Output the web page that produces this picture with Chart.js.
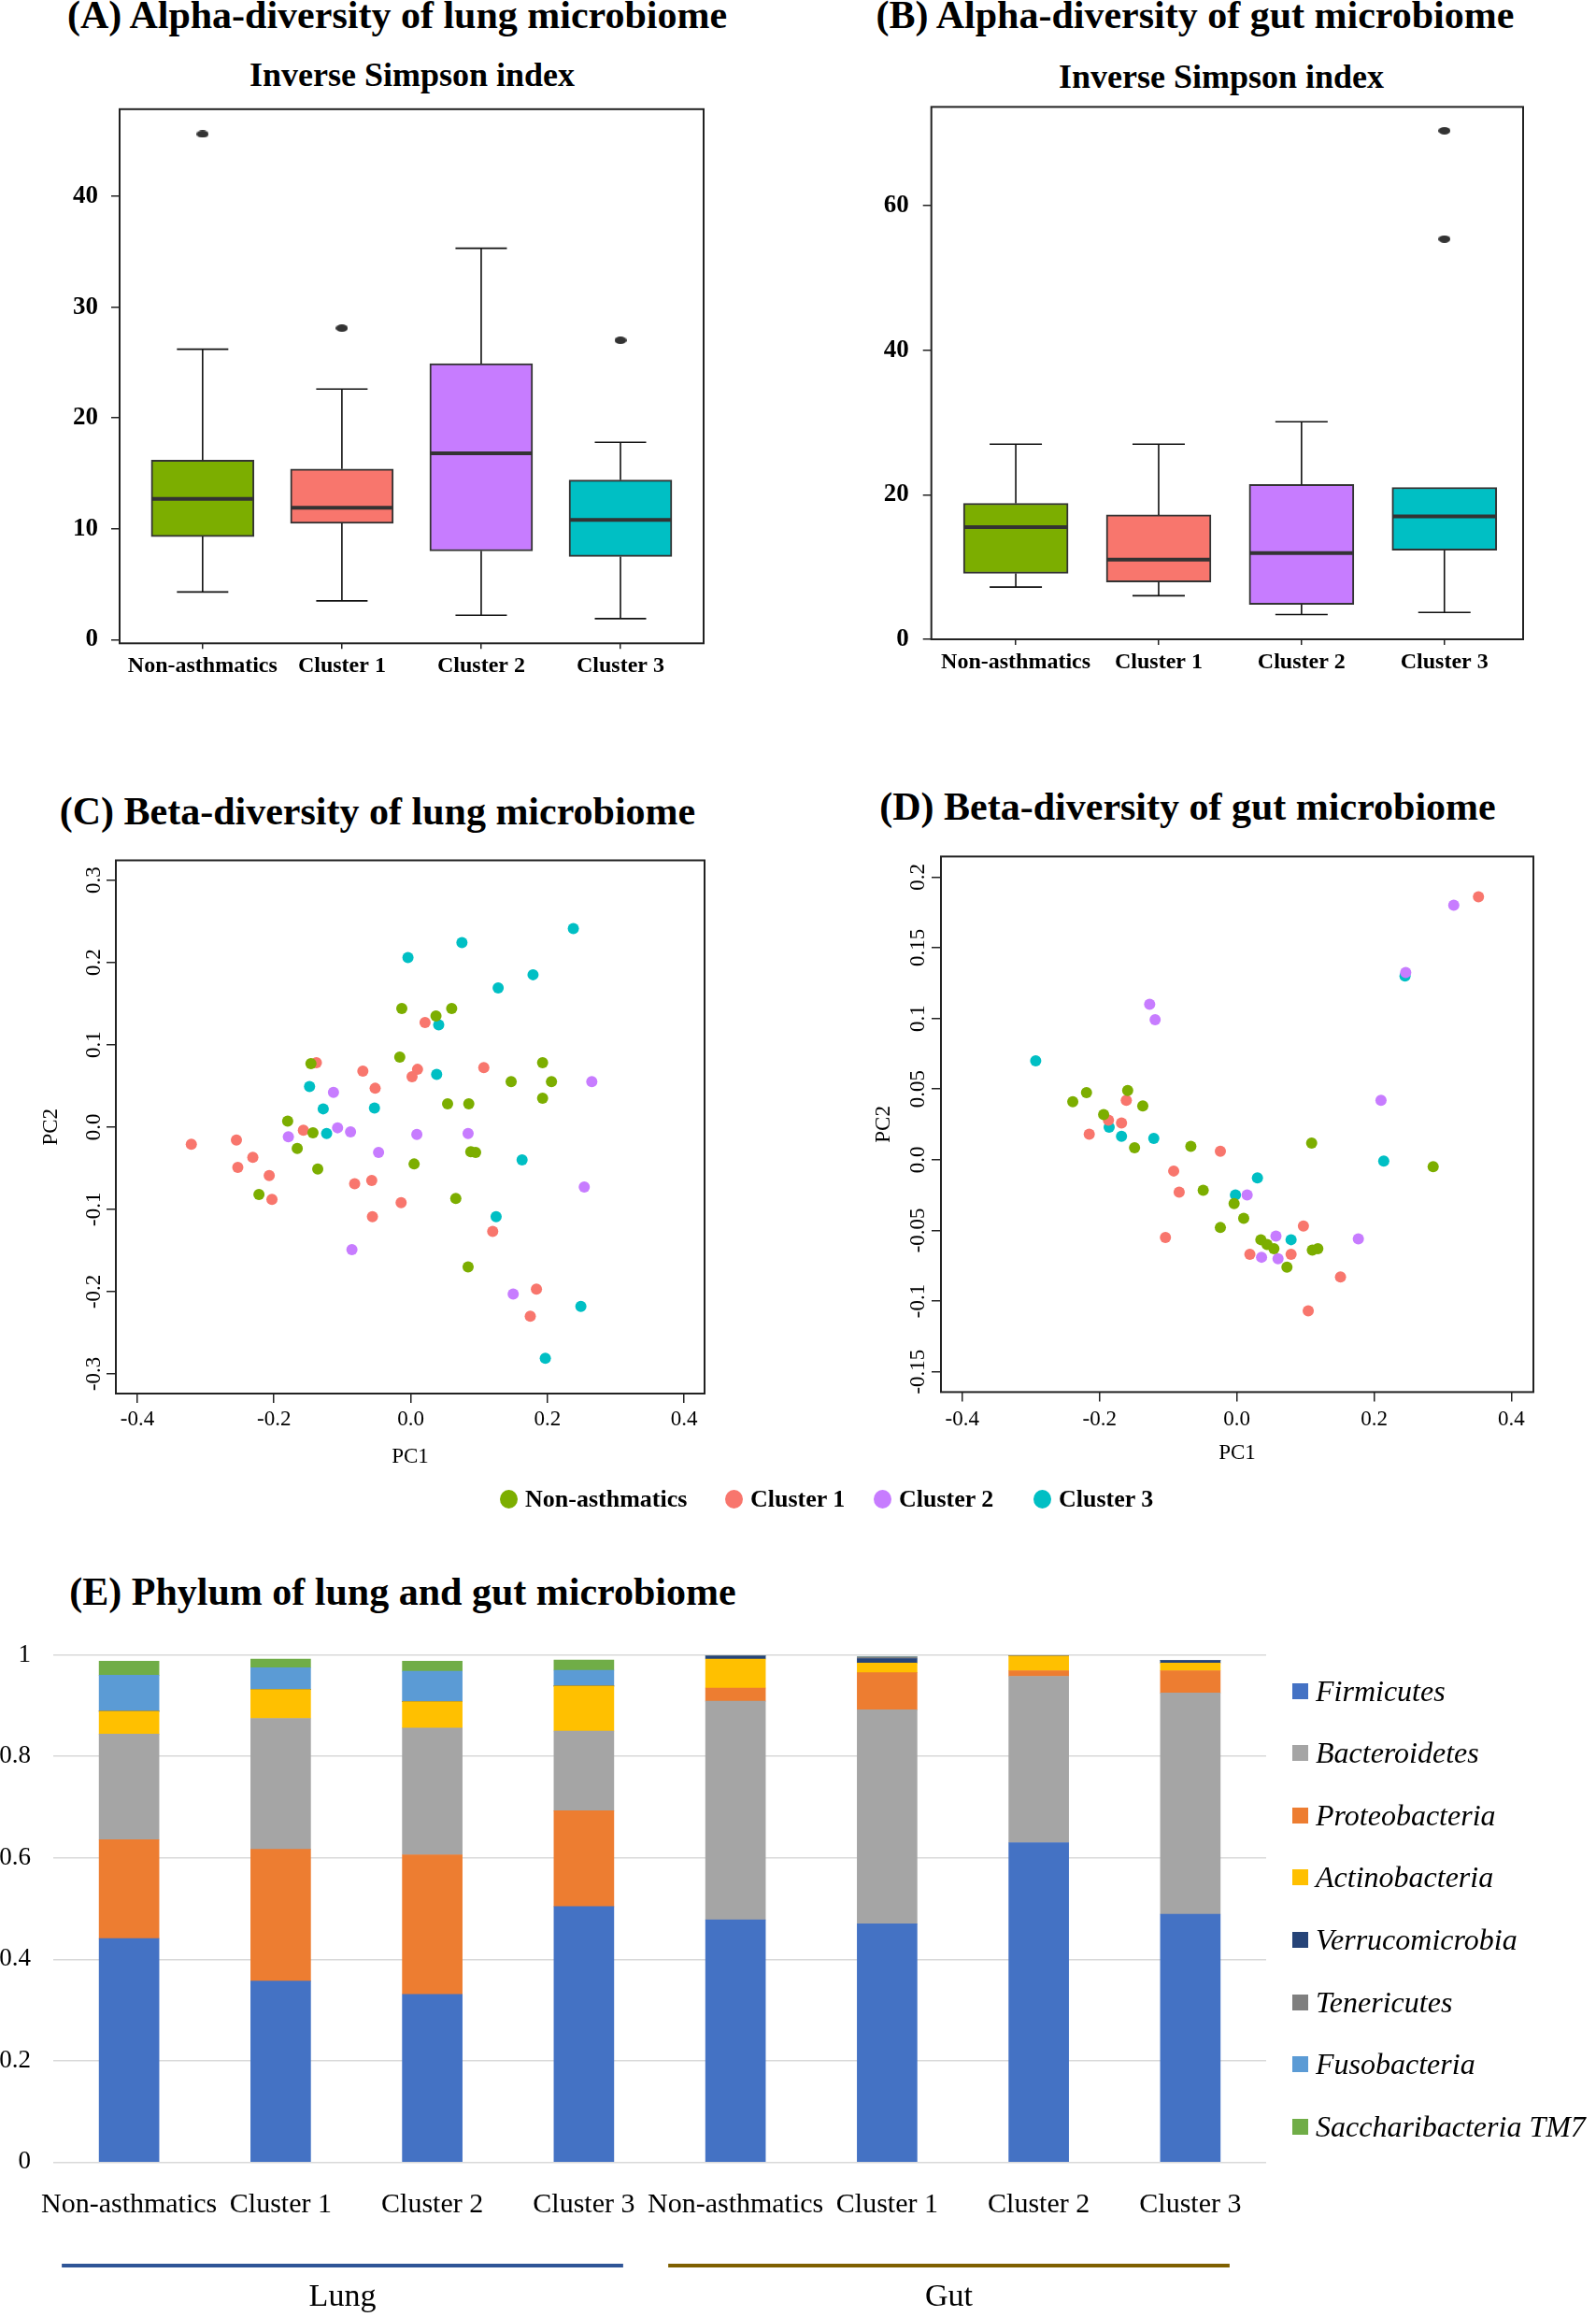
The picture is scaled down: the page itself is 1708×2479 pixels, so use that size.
<!DOCTYPE html>
<html>
<head>
<meta charset="utf-8">
<script src="https://cdn.jsdelivr.net/npm/chart.js@4.4.0/dist/chart.umd.min.js"></script>
<style>
  body { margin: 0; background: #fff; }
  #page { position: relative; width: 1708px; height: 2479px; overflow: hidden; background: #fff;
          font-family: "Liberation Serif", "Times New Roman", serif; color: #000; }
  canvas { position: absolute; }
  .title { position: absolute; width: 900px; text-align: center; font-weight: bold; white-space: nowrap; }
  .h1 { font-size: 42px; line-height: 50px; }
  .h2 { font-size: 36px; line-height: 44px; }
  .leg { position: absolute; display: flex; align-items: center; white-space: nowrap; }
</style>
</head>
<body>
<div id="page">
  <div class="title h1" style="left:-25px;top:-9px">(A) Alpha-diversity of lung microbiome</div>
  <div class="title h1" style="left:829px;top:-9px">(B) Alpha-diversity of gut microbiome</div>
  <div class="title h2" style="left:-9px;top:58px">Inverse Simpson index</div>
  <div class="title h2" style="left:857px;top:60px">Inverse Simpson index</div>
  <div class="title h1" style="left:-46px;top:843px">(C) Beta-diversity of lung microbiome</div>
  <div class="title h1" style="left:821px;top:838px">(D) Beta-diversity of gut microbiome</div>
  <div class="title h1" style="left:-19px;top:1678px">(E) Phylum of lung and gut microbiome</div>

  <canvas id="chartA" width="854" height="640" style="left:0;top:100px"></canvas>
  <canvas id="chartB" width="854" height="640" style="left:854px;top:100px"></canvas>
  <canvas id="chartC" width="800" height="690" style="left:0;top:900px"></canvas>
  <canvas id="chartD" width="854" height="690" style="left:854px;top:900px"></canvas>
  <canvas id="chartE" width="1708" height="739" style="left:0;top:1740px"></canvas>
  <div id="legendCD"></div>
  <div id="legendE"></div>
</div>

<script>
const SERIF = '"Liberation Serif", "Times New Roman", serif';
Chart.defaults.font.family = SERIF;
Chart.defaults.color = '#000';

const groups = ['Non-asthmatics', 'Cluster 1', 'Cluster 2', 'Cluster 3'];
const groupColors = ['#7CAE00', '#F8766D', '#C77CFF', '#00BFC4'];

// (A) inverse Simpson, lung
const lungLow = [4.3, 3.5, 2.2, 1.9];
const lungQ1 = [9.3, 10.5, 8.0, 7.5];
const lungMedian = [12.7, 11.9, 16.8, 10.8];
const lungQ3 = [16.2, 15.4, 24.9, 14.4];
const lungHigh = [26.2, 22.6, 35.3, 17.8];
const lungOutliers = [[45.6], [28.1], [], [27.0]];
const lungTicks = [0, 10, 20, 30, 40];

// (B) inverse Simpson, gut
const gutLow = [7.2, 6.0, 3.4, 3.7];
const gutQ1 = [9.1, 7.9, 4.8, 12.3];
const gutMedian = [15.5, 11.0, 11.9, 17.0];
const gutQ3 = [18.8, 17.2, 21.4, 21.0];
const gutHigh = [27.0, 27.0, 30.1, 21.0];
const gutOutliers = [[], [], [], [70.4, 55.4]];
const gutTicks = [0, 20, 40, 60];

// (C) PCoA lung, [PC1, PC2]
const lungNon = [[-0.013,0.144],[0.037,0.135],[0.060,0.144],[-0.146,0.077],[-0.016,0.085],[0.193,0.078],[0.147,0.055],[0.206,0.055],[0.054,0.028],[0.085,0.028],[0.193,0.035],[-0.180,0.007],[-0.143,-0.007],[-0.166,-0.026],[-0.136,-0.051],[-0.222,-0.082],[0.005,-0.045],[0.088,-0.030],[0.095,-0.031],[0.066,-0.087],[0.084,-0.170]];
const lungC1 = [[-0.138,0.078],[-0.070,0.068],[-0.052,0.047],[0.021,0.127],[0.010,0.070],[0.002,0.061],[0.107,0.072],[-0.321,-0.021],[-0.255,-0.016],[-0.157,-0.004],[-0.231,-0.037],[-0.253,-0.049],[-0.207,-0.059],[-0.203,-0.088],[-0.082,-0.069],[-0.057,-0.065],[-0.014,-0.092],[-0.056,-0.109],[0.120,-0.127],[0.184,-0.197],[0.175,-0.230]];
const lungC2 = [[-0.113,0.042],[-0.179,-0.012],[-0.107,-0.001],[-0.088,-0.006],[-0.047,-0.031],[0.009,-0.009],[0.084,-0.008],[0.265,0.055],[0.254,-0.073],[-0.086,-0.149],[0.150,-0.203]];
const lungC3 = [[0.238,0.241],[0.075,0.224],[-0.004,0.206],[0.179,0.185],[0.128,0.169],[0.041,0.124],[0.038,0.064],[-0.148,0.049],[-0.128,0.022],[-0.053,0.023],[-0.123,-0.008],[0.163,-0.040],[0.125,-0.109],[0.249,-0.218],[0.197,-0.281]];

// (D) PCoA gut, [PC1, PC2]
const gutNon = [[-0.239,0.041],[-0.219,0.0475],[-0.194,0.032],[-0.159,0.049],[-0.137,0.038],[-0.149,0.0084],[-0.067,0.0094],[-0.049,-0.0216],[-0.004,-0.031],[0.010,-0.0415],[-0.024,-0.048],[0.035,-0.0566],[0.044,-0.060],[0.054,-0.063],[0.073,-0.076],[0.110,-0.064],[0.118,-0.063],[0.109,0.0118],[0.286,-0.005]];
const gutC1 = [[-0.161,0.042],[-0.187,0.028],[-0.168,0.026],[-0.215,0.018],[-0.024,0.006],[-0.092,-0.008],[-0.084,-0.023],[-0.104,-0.055],[0.019,-0.067],[0.079,-0.067],[0.097,-0.047],[0.151,-0.083],[0.104,-0.107],[0.352,0.186]];
const gutC2 = [[-0.127,0.110],[-0.119,0.099],[0.015,-0.025],[0.057,-0.054],[0.036,-0.069],[0.060,-0.070],[0.177,-0.056],[0.210,0.042],[0.246,0.1325],[0.316,0.180]];
const gutC3 = [[-0.293,0.070],[-0.186,0.023],[-0.168,0.0165],[-0.121,0.015],[-0.002,-0.025],[0.030,-0.0128],[0.079,-0.0566],[0.245,0.130],[0.214,-0.001]];

const pc1Ticks = [-0.4, -0.2, 0, 0.2, 0.4];
const pc1Labels = ['-0.4', '-0.2', '0.0', '0.2', '0.4'];
const lungPc2Ticks = [-0.3, -0.2, -0.1, 0, 0.1, 0.2, 0.3];
const lungPc2Labels = ['-0.3', '-0.2', '-0.1', '0.0', '0.1', '0.2', '0.3'];
const gutPc2Ticks = [-0.15, -0.1, -0.05, 0, 0.05, 0.1, 0.15, 0.2];
const gutPc2Labels = ['-0.15', '-0.1', '-0.05', '0.0', '0.05', '0.1', '0.15', '0.2'];

// (E) relative abundance, 4 lung groups then 4 gut groups
const phylumCategories = ['Non-asthmatics', 'Cluster 1', 'Cluster 2', 'Cluster 3', 'Non-asthmatics', 'Cluster 1', 'Cluster 2', 'Cluster 3'];
const firmicutes      = [0.441, 0.357, 0.331, 0.504, 0.478, 0.470, 0.630, 0.489];
const bacteroidetes   = [0.208, 0.258, 0.250, 0.157, 0.431, 0.422, 0.328, 0.436];
const proteobacteria  = [0.195, 0.260, 0.275, 0.189, 0.026, 0.073, 0.011, 0.044];
const actinobacteria  = [0.045, 0.057, 0.052, 0.089, 0.057, 0.019, 0.029, 0.015];
const verrucomicrobia = [0, 0, 0, 0, 0.006, 0.009, 0, 0.005];
const tenericutes     = [0, 0, 0, 0, 0, 0.003, 0.001, 0];
const fusobacteria    = [0.071, 0.043, 0.060, 0.031, 0, 0, 0, 0];
const saccharibacteria = [0.028, 0.017, 0.020, 0.020, 0, 0, 0, 0];
const phylumTicks = [0, 0.2, 0.4, 0.6, 0.8, 1];
const phylumTickLabels = ['0', '0.2', '0.4', '0.6', '0.8', '1'];
const bodySites = ['Lung', 'Gut'];

const phyla = [
  { name: 'Firmicutes', values: firmicutes, color: '#4472C4' },
  { name: 'Bacteroidetes', values: bacteroidetes, color: '#A5A5A5' },
  { name: 'Proteobacteria', values: proteobacteria, color: '#ED7D31' },
  { name: 'Actinobacteria', values: actinobacteria, color: '#FFC000' },
  { name: 'Verrucomicrobia', values: verrucomicrobia, color: '#264478' },
  { name: 'Tenericutes', values: tenericutes, color: '#7F7F7F' },
  { name: 'Fusobacteria', values: fusobacteria, color: '#5B9BD5' },
  { name: 'Saccharibacteria TM7', values: saccharibacteria, color: '#70AD47' }
];
// lung bars were stacked with Proteobacteria below Bacteroidetes
const lungStackOrder = [0, 2, 1, 3, 4, 5, 6, 7];

// ---- helpers ----
function ellipseDot(w, h, color) {
  const c = document.createElement('canvas');
  c.width = w; c.height = h;
  const g = c.getContext('2d');
  g.fillStyle = color;
  g.beginPath();
  g.ellipse(w / 2, h / 2, w / 2, h / 2, 0, 0, Math.PI * 2);
  g.fill();
  return c;
}

// fixed axis sizes, and no extra room reserved for the end labels
function fixY(w) { return s => { s.width = w; s.paddingTop = 0; s.paddingBottom = 0; }; }
function fixX(h) { return s => { s.height = h; s.paddingLeft = 0; s.paddingRight = 0; }; }

const frame = {
  id: 'frame',
  afterDraw(chart) {
    const { ctx, chartArea: a } = chart;
    ctx.save();
    ctx.strokeStyle = '#222';
    ctx.lineWidth = 2;
    ctx.strokeRect(a.left, a.top, a.right - a.left, a.bottom - a.top);
    ctx.restore();
  }
};

function boxWhiskers(low, med, high) {
  return {
    id: 'boxWhiskers',
    afterDatasetsDraw(chart) {
      const { ctx, scales: { x, y } } = chart;
      const box = chart.getDatasetMeta(0).data;
      ctx.save();
      med.forEach((m, i) => {
        const cx = x.getPixelForValue(i + 1);
        const half = box[i].width / 2;
        const top = Math.min(box[i].y, box[i].base);
        const bottom = Math.max(box[i].y, box[i].base);
        const yl = y.getPixelForValue(low[i]);
        const yh = y.getPixelForValue(high[i]);
        ctx.strokeStyle = '#111';
        ctx.lineWidth = 1.6;
        ctx.beginPath();
        ctx.moveTo(cx, bottom); ctx.lineTo(cx, yl);
        ctx.moveTo(cx - half / 2, yl); ctx.lineTo(cx + half / 2, yl);
        if (yh < top - 1) {
          ctx.moveTo(cx, top); ctx.lineTo(cx, yh);
          ctx.moveTo(cx - half / 2, yh); ctx.lineTo(cx + half / 2, yh);
        }
        ctx.stroke();
        ctx.strokeStyle = '#333';
        ctx.lineWidth = 4;
        const ym = y.getPixelForValue(m);
        ctx.beginPath();
        ctx.moveTo(cx - half + 1, ym); ctx.lineTo(cx + half - 1, ym);
        ctx.stroke();
      });
      ctx.restore();
    }
  };
}

function outlierPoints(list) {
  const pts = [];
  list.forEach((arr, i) => arr.forEach(v => pts.push({ x: i + 1, y: v })));
  return pts;
}

function rAxisGrid(len) {
  return { display: true, drawOnChartArea: false, drawTicks: true, tickLength: len, color: '#222', lineWidth: 1.5, offset: false };
}

function boxChart(id, cfg) {
  new Chart(document.getElementById(id), {
    type: 'bar',
    data: {
      datasets: [
        {
          type: 'bar',
          data: cfg.q1.map((q, i) => ({ x: i + 1, y: [q, cfg.q3[i]] })),
          backgroundColor: groupColors,
          borderColor: '#333',
          borderWidth: 2,
          borderSkipped: false,
          barThickness: cfg.boxWidth
        },
        {
          type: 'scatter',
          data: outlierPoints(cfg.outliers),
          pointStyle: ellipseDot(13, 8, '#333'),
          pointRadius: 6
        }
      ]
    },
    options: {
      responsive: false, animation: false, devicePixelRatio: 1,
      layout: { padding: cfg.padding },
      plugins: { legend: { display: false }, tooltip: { enabled: false } },
      scales: {
        x: {
          type: 'linear', min: cfg.xMin, max: cfg.xMax, offset: false,
          afterBuildTicks: s => { s.ticks = groups.map((g, i) => ({ value: i + 1 })); },
          afterFit: fixX(cfg.xHeight),
          grid: rAxisGrid(6), border: { display: false },
          ticks: { callback: v => groups[v - 1], font: { size: 24, weight: 'bold' }, color: '#000',
                   padding: cfg.xPad, autoSkip: false, maxRotation: 0, minRotation: 0 }
        },
        y: {
          min: cfg.yMin, max: cfg.yMax,
          afterBuildTicks: s => { s.ticks = cfg.ticks.map(v => ({ value: v })); },
          afterFit: fixY(cfg.yWidth),
          grid: rAxisGrid(9), border: { display: false },
          ticks: { callback: v => String(v), font: { size: 27, weight: 'bold' }, color: '#000', padding: cfg.yPad }
        }
      }
    },
    plugins: [boxWhiskers(cfg.low, cfg.med, cfg.high), frame]
  });
}

boxChart('chartA', {
  q1: lungQ1, q3: lungQ3, low: lungLow, med: lungMedian, high: lungHigh, outliers: lungOutliers, ticks: lungTicks,
  boxWidth: 110, xMin: 0.404, xMax: 4.597, yMin: -0.33, yMax: 47.85,
  padding: { left: 0, top: 16.8, right: 101, bottom: 0 }, xHeight: 51.7, yWidth: 128, xPad: 4, yPad: 14
});

boxChart('chartB', {
  q1: gutQ1, q3: gutQ3, low: gutLow, med: gutMedian, high: gutHigh, outliers: gutOutliers, ticks: gutTicks,
  boxWidth: 112, xMin: 0.409, xMax: 4.551, yMin: -0.03, yMax: 73.7,
  padding: { left: 0, top: 14.4, right: 78, bottom: 0 }, xHeight: 56, yWidth: 142.7, xPad: 4.3, yPad: 15
});

function pcoaChart(id, sets, cfg) {
  new Chart(document.getElementById(id), {
    type: 'scatter',
    data: {
      datasets: sets.map((pts, k) => ({
        label: groups[k],
        data: pts.map(p => ({ x: p[0], y: p[1] })),
        backgroundColor: groupColors[k],
        borderWidth: 0,
        pointRadius: 6
      }))
    },
    options: {
      responsive: false, animation: false, devicePixelRatio: 1,
      layout: { padding: cfg.padding },
      plugins: { legend: { display: false }, tooltip: { enabled: false } },
      scales: {
        x: {
          min: cfg.xMin, max: cfg.xMax,
          afterBuildTicks: s => { s.ticks = pc1Ticks.map(v => ({ value: v })); },
          afterFit: fixX(cfg.xHeight),
          grid: rAxisGrid(10), border: { display: false },
          ticks: { callback: (v, i) => pc1Labels[i], font: { size: 23 }, color: '#000', padding: cfg.xPad,
                   autoSkip: false, maxRotation: 0, minRotation: 0 },
          title: { display: true, text: 'PC1', font: { size: 23 }, color: '#000', padding: { top: 0, bottom: cfg.xTitlePad } }
        },
        y: {
          min: cfg.yMin, max: cfg.yMax,
          afterBuildTicks: s => { s.ticks = cfg.yTicks.map(v => ({ value: v })); },
          afterFit: fixY(cfg.yWidth),
          grid: rAxisGrid(10), border: { display: false },
          ticks: { callback: (v, i) => cfg.yLabels[i], font: { size: 23 }, color: '#000', padding: cfg.yPad,
                   autoSkip: false, minRotation: 90, maxRotation: 90, crossAlign: 'center' },
          title: { display: true, text: 'PC2', font: { size: 23 }, color: '#000', padding: { top: cfg.yTitlePad, bottom: 0 } }
        }
      }
    },
    plugins: [frame]
  });
}

pcoaChart('chartC', [lungNon, lungC1, lungC2, lungC3], {
  xMin: -0.4314, xMax: 0.430, yMin: -0.324, yMax: 0.324, yTicks: lungPc2Ticks, yLabels: lungPc2Labels,
  padding: { left: 0, top: 20.5, right: 46, bottom: 0 }, xHeight: 99, yWidth: 124,
  xPad: 4.2, xTitlePad: 17.2, yPad: -5.2, yTitlePad: 40.7
});

pcoaChart('chartD', [gutNon, gutC1, gutC2, gutC3], {
  xMin: -0.431, xMax: 0.432, yMin: -0.1644, yMax: 0.2145, yTicks: gutPc2Ticks, yLabels: gutPc2Labels,
  padding: { left: 0, top: 16.4, right: 67, bottom: 0 }, xHeight: 100.6, yWidth: 153,
  xPad: 5.8, xTitlePad: 21.2, yPad: -10, yTitlePad: 77.7
});

// shared legend for C and D
const legCD = document.getElementById('legendCD');
const legCDx = [535, 776, 935, 1106];
groups.forEach((g, k) => {
  const item = document.createElement('div');
  item.className = 'leg';
  item.style.left = legCDx[k] + 'px';
  item.style.top = '1588px';
  item.style.height = '32px';
  item.innerHTML = '<span style="display:inline-block;width:19px;height:20px;border-radius:50%;background:' +
    groupColors[k] + ';margin-right:8px"></span><span style="font-weight:bold;font-size:26px">' + g + '</span>';
  legCD.appendChild(item);
});

// (E) stacked bars: gut datasets in legend order, lung datasets in their own stacking order
const phylumDatasets = [];
phyla.forEach(p => {
  phylumDatasets.push({
    label: p.name,
    data: p.values.map((v, i) => (i >= 4 ? v : null)),
    backgroundColor: p.color, borderWidth: 0, barThickness: 64
  });
});
lungStackOrder.forEach(k => {
  const p = phyla[k];
  phylumDatasets.push({
    label: p.name + ' (lung)',
    data: p.values.map((v, i) => (i < 4 ? v : null)),
    backgroundColor: p.color, borderWidth: 0, barThickness: 64
  });
});

const siteBrackets = {
  id: 'siteBrackets',
  afterDraw(chart) {
    const { ctx, scales: { x } } = chart;
    const colors = ['#2F5597', '#7F6000'];
    ctx.save();
    bodySites.forEach((site, s) => {
      const x0 = x.getPixelForValue(s * 4) - 72;
      const x1 = x.getPixelForValue(s * 4 + 3) + 42;
      ctx.strokeStyle = colors[s];
      ctx.lineWidth = 4;
      ctx.beginPath();
      ctx.moveTo(x0, 684); ctx.lineTo(x1, 684);
      ctx.stroke();
      ctx.fillStyle = '#000';
      ctx.font = '34px ' + SERIF;
      ctx.textAlign = 'center';
      ctx.textBaseline = 'middle';
      ctx.fillText(site, (x0 + x1) / 2, 718);
    });
    ctx.restore();
  }
};

new Chart(document.getElementById('chartE'), {
  type: 'bar',
  data: { labels: phylumCategories, datasets: phylumDatasets },
  options: {
    responsive: false, animation: false, devicePixelRatio: 1,
    layout: { padding: { left: 0, top: 30.7, right: 353, bottom: 0 } },
    plugins: { legend: { display: false }, tooltip: { enabled: false } },
    scales: {
      x: {
        stacked: true,
        grid: { display: false, drawTicks: false }, border: { display: false },
        afterFit: fixX(165.6),
        ticks: { font: { size: 30 }, color: '#000', padding: 27.6, autoSkip: false, maxRotation: 0, minRotation: 0 }
      },
      y: {
        stacked: true, min: 0, max: 1,
        afterBuildTicks: s => { s.ticks = phylumTicks.map(v => ({ value: v })); },
        afterFit: fixY(57),
        grid: { color: '#D9D9D9', lineWidth: 1.6, drawTicks: false }, border: { display: false },
        ticks: { callback: (v, i) => phylumTickLabels[i], font: { size: 27 }, color: '#000', padding: 24 }
      }
    }
  },
  plugins: [siteBrackets]
});

const legE = document.getElementById('legendE');
phyla.forEach((p, k) => {
  const item = document.createElement('div');
  item.className = 'leg';
  item.style.left = '1383px';
  item.style.top = (1789 + k * 66.6) + 'px';
  item.style.height = '40px';
  item.innerHTML = '<span style="display:inline-block;width:17px;height:17px;background:' + p.color +
    ';margin-right:8px"></span><span style="font-style:italic;font-size:32px">' + p.name + '</span>';
  legE.appendChild(item);
});
</script>
</body>
</html>
